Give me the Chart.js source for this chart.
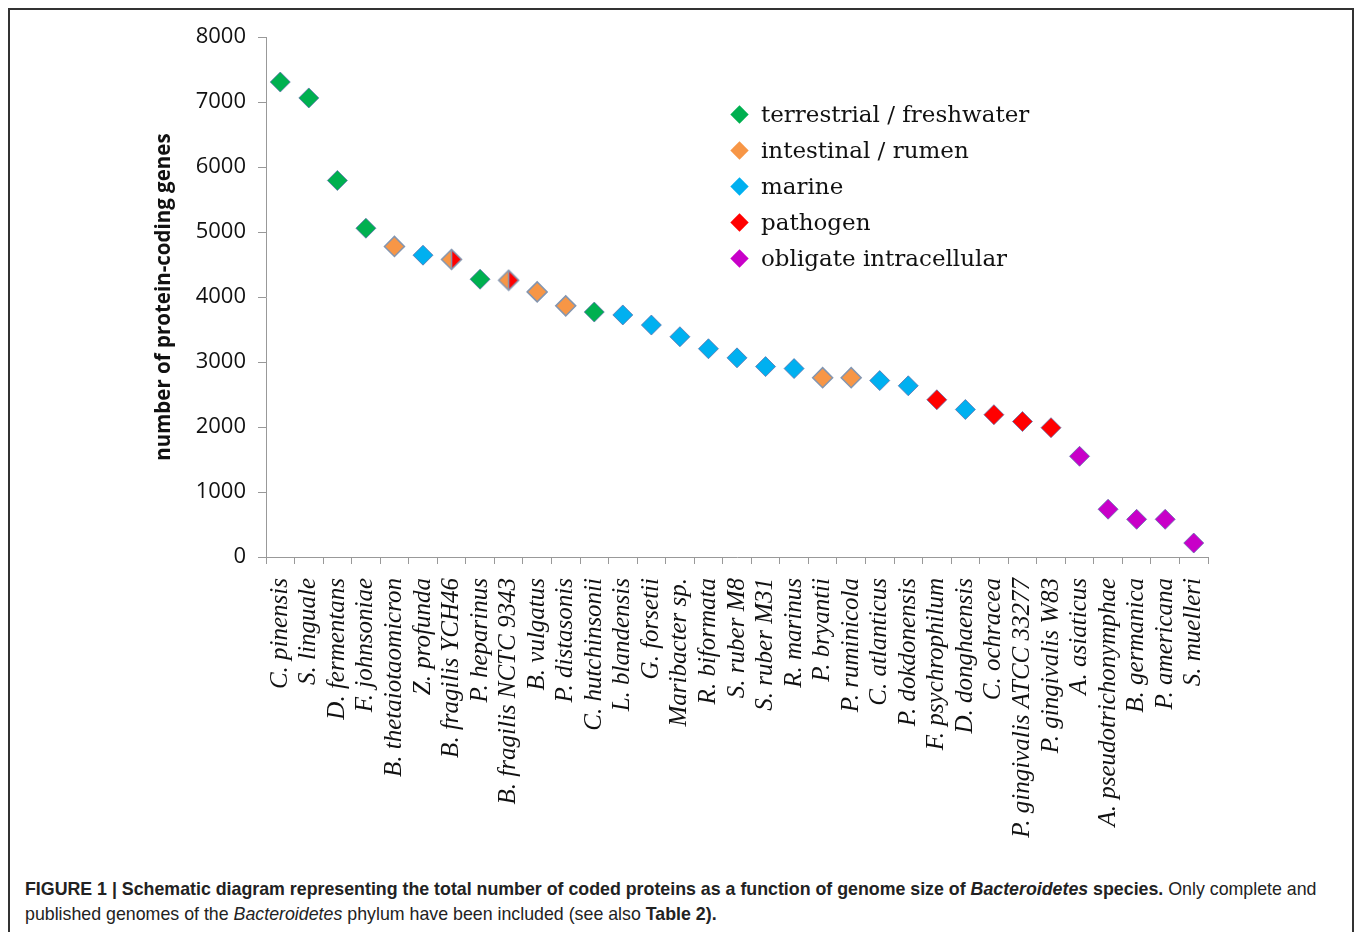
<!DOCTYPE html>
<html>
<head>
<meta charset="utf-8">
<script src="https://cdn.jsdelivr.net/npm/chart.js@4.4.1/dist/chart.umd.min.js"></script>
<style>
  html, body { margin: 0; background: #fff; }
  #frame { position: absolute; left: 8px; top: 8px; width: 1346px; height: 940px; border: 2px solid #333; box-sizing: border-box; }
  #wrap { position: absolute; left: 140px; top: 12px; width: 1100px; height: 830px; }
  #legend { position: absolute; left: 728px; top: 96px; font-family: "DejaVu Serif", serif; font-size: 23px; color: #111; }
  .row { height: 36px; display: flex; align-items: center; }
  .dm { width: 13px; height: 13px; transform: rotate(45deg); margin: 0 15px 0 5px; }
  #caption { position: absolute; left: 25px; top: 877px; font-family: "Liberation Sans", Arial, sans-serif; font-size: 17.8px; line-height: 25px; color: #222; white-space: nowrap; }
</style>
</head>
<body>
<div id="frame"></div>
<div id="wrap"><canvas id="proteinChart"></canvas></div>
<div id="legend"></div>
<div id="caption"><b>FIGURE 1 | Schematic diagram representing the total number of coded proteins as a function of genome size of <i>Bacteroidetes</i> species.</b> Only complete and<br>published genomes of the <i>Bacteroidetes</i> phylum have been included (see also <b>Table 2).</b></div>
<script>
// species in plotted order
const species = [
  "C. pinensis", "S. linguale", "D. fermentans", "F. johnsoniae", "B. thetaiotaomicron",
  "Z. profunda", "B. fragilis YCH46", "P. heparinus", "B. fragilis NCTC 9343", "B. vulgatus",
  "P. distasonis", "C. hutchinsonii", "L. blandensis", "G. forsetii", "Maribacter sp.",
  "R. biformata", "S. ruber M8", "S. ruber M31", "R. marinus", "P. bryantii",
  "P. ruminicola", "C. atlanticus", "P. dokdonensis", "F. psychrophilum", "D. donghaensis",
  "C. ochracea", "P. gingivalis ATCC 33277", "P. gingivalis W83", "A. asiaticus",
  "A. pseudotrichonymphae", "B. germanica", "P. americana", "S. muelleri"
];

// number of protein-coding genes
const genes = [
  7310, 7065, 5795, 5060, 4780,
  4645, 4580, 4275, 4260, 4080,
  3865, 3770, 3725, 3570, 3390,
  3205, 3065, 2930, 2900, 2760,
  2760, 2715, 2635, 2420, 2270,
  2190, 2085, 1990, 1550,
  735, 580, 580, 215
];

// habitat of each species ("intestinal+pathogen" = split marker)
const habitat = [
  "terrestrial", "terrestrial", "terrestrial", "terrestrial", "intestinal",
  "marine", "intestinal+pathogen", "terrestrial", "intestinal+pathogen", "intestinal",
  "intestinal", "terrestrial", "marine", "marine", "marine",
  "marine", "marine", "marine", "marine", "intestinal",
  "intestinal", "marine", "marine", "pathogen", "marine",
  "pathogen", "pathogen", "pathogen", "obligate",
  "obligate", "obligate", "obligate", "obligate"
];

const habitatKeys = ["terrestrial", "intestinal", "marine", "pathogen", "obligate"];
const habitatNames = ["terrestrial / freshwater", "intestinal / rumen", "marine", "pathogen", "obligate intracellular"];
const habitatColors = ["#00b050", "#f79646", "#00b0f0", "#ff0000", "#c800c8"];

const colorOf = k => habitatColors[habitatKeys.indexOf(k)];
const edge = "rgba(90,110,170,0.75)";

// half orange / half red diamond for the two B. fragilis strains
function splitDiamond(r) {
  const c = document.createElement("canvas");
  const s = 2 * r + 3;
  c.width = s; c.height = s;
  const g = c.getContext("2d");
  const m = s / 2;
  g.fillStyle = colorOf("intestinal");
  g.beginPath(); g.moveTo(m, m - r); g.lineTo(m - r, m); g.lineTo(m, m + r); g.closePath(); g.fill();
  g.fillStyle = colorOf("pathogen");
  g.beginPath(); g.moveTo(m, m - r); g.lineTo(m + r, m); g.lineTo(m, m + r); g.closePath(); g.fill();
  g.strokeStyle = "#8496b0"; g.lineWidth = 1.5;
  g.beginPath(); g.moveTo(m, m - r); g.lineTo(m + r, m); g.lineTo(m, m + r); g.lineTo(m - r, m); g.closePath(); g.stroke();
  g.beginPath(); g.moveTo(m, m - r); g.lineTo(m, m + r); g.stroke();
  return c;
}

const R = 10;
const split = splitDiamond(R);

// html legend
const legend = document.getElementById("legend");
habitatNames.forEach((name, i) => {
  const row = document.createElement("div");
  row.className = "row";
  row.innerHTML = '<span class="dm" style="background:' + habitatColors[i] + '"></span><span>' + name + '</span>';
  legend.appendChild(row);
});

new Chart(document.getElementById("proteinChart"), {
  type: "line",
  data: {
    labels: species,
    datasets: [{
      data: genes,
      showLine: false,
      pointStyle: habitat.map(h => h.includes("+") ? split : "rectRot"),
      pointRadius: R,
      pointHoverRadius: R,
      pointBackgroundColor: habitat.map(h => h.includes("+") ? "transparent" : colorOf(h)),
      pointBorderColor: habitat.map(h => h === "intestinal" ? "#8496b0" : edge),
      pointBorderWidth: habitat.map(h => h === "intestinal" ? 1.5 : 1)
    }]
  },
  options: {
    responsive: true,
    maintainAspectRatio: false,
    animation: false,
    layout: { padding: { top: 2, right: 32, bottom: 0, left: 0 } },
    plugins: { legend: { display: false }, tooltip: { enabled: false } },
    scales: {
      x: {
        offset: true,
        grid: { drawOnChartArea: false, offset: true, tickLength: 7, color: "#999" },
        border: { color: "#999" },
        ticks: {
          autoSkip: false, minRotation: 90, maxRotation: 90, padding: 14, color: "#111",
          font: { family: "Liberation Serif", style: "italic", size: 25 }
        },
        afterFit: s => { s.height = 285; }
      },
      y: {
        min: 0, max: 8000,
        grid: { drawOnChartArea: false, tickLength: 8, color: "#999" },
        border: { color: "#999" },
        ticks: {
          stepSize: 1000, padding: 12, color: "#111",
          font: { family: "Open Sans", size: 22 },
          callback: v => String(v)
        },
        title: {
          display: true, text: "number of protein-coding genes", color: "#111",
          padding: { top: 12, bottom: 4 },
          font: { family: "Open Sans", weight: "bold", size: 20.5 }
        },
        afterFit: s => { s.width = 126; }
      }
    }
  }
});
</script>
</body>
</html>
